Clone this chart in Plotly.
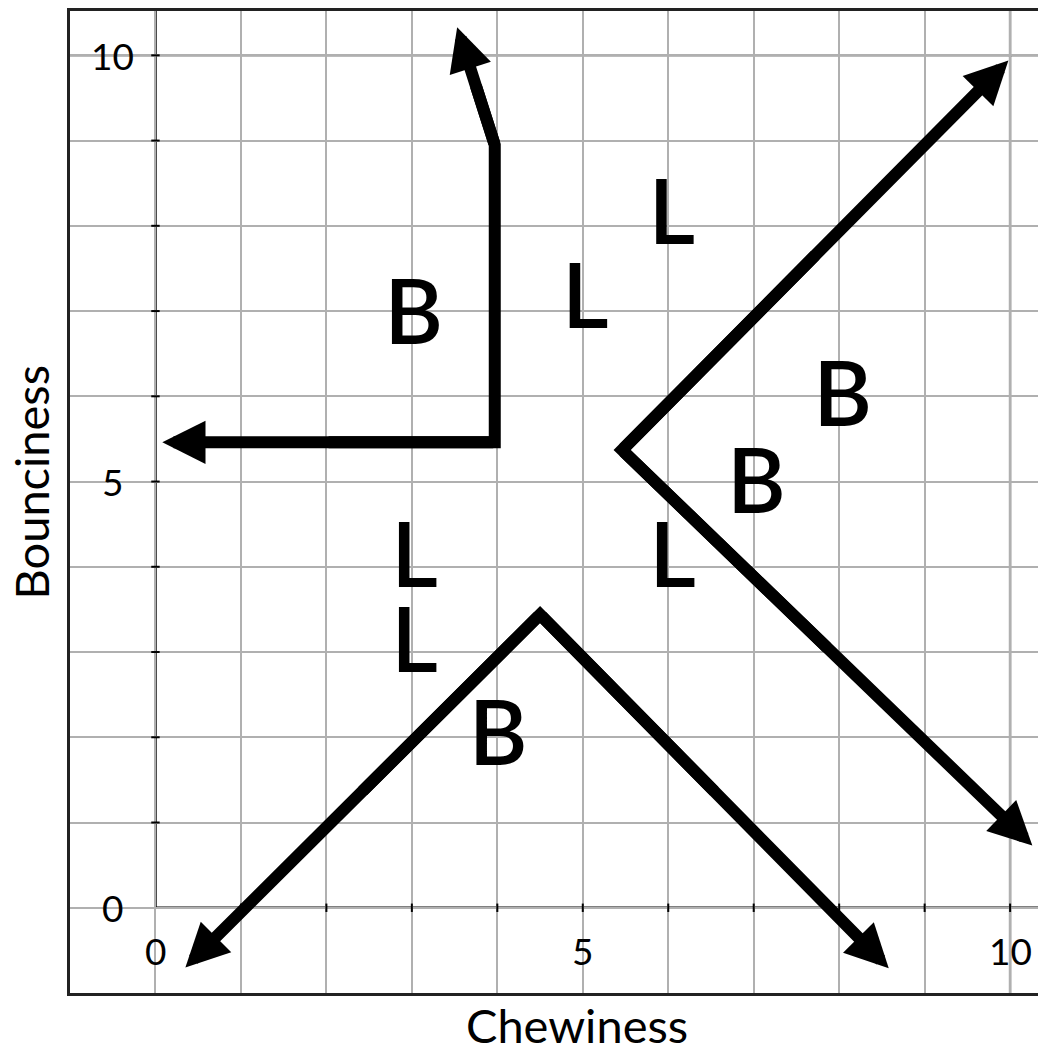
import plotly.graph_objects as go

# arrow paths: first and last points are arrow tips
path_corner = [(0.08, 5.46), (3.97, 5.46), (3.97, 8.95), (3.53, 10.33)]
path_right = [(9.98, 9.94), (5.46, 5.37), (10.26, 0.73)]
path_bottom = [(0.35, -0.70), (4.50, 3.44), (8.58, -0.71)]
paths = [path_corner, path_right, path_bottom]

# letters on the grid
letters = ["B", "L", "L", "B", "B", "L", "L", "L", "B"]
letter_x = [3.02, 5.03, 6.04, 8.04, 7.03, 6.05, 3.03, 3.03, 4.01]
letter_y = [6.88, 7.07, 8.05, 5.92, 4.90, 4.03, 4.03, 3.03, 1.94]

# tick labels drawn inside the plot
ylab_text = ["10", "5", "0"]
ylab_val = [10, 5, 0]
xlab_text = ["0", "5", "10"]
xlab_val = [0, 5, 10]

ticks = list(range(1, 11))

FONT = "Lato"
W = 12

fig = go.Figure()

anns = []
for p in paths:
    mid_a = ((p[0][0] + p[1][0]) / 2, (p[0][1] + p[1][1]) / 2)
    mid_b = ((p[-1][0] + p[-2][0]) / 2, (p[-1][1] + p[-2][1]) / 2)
    pts = [mid_a] + p[1:-1] + [mid_b]
    fig.add_trace(go.Scatter(
        x=[q[0] for q in pts], y=[q[1] for q in pts],
        mode="lines", line=dict(color="black", width=W),
        hoverinfo="skip", showlegend=False,
    ))
    # arrow drawn over the whole end segment so there is no seam
    for tip, start in [(p[0], p[1]), (p[-1], p[-2])]:
        anns.append(dict(
            x=tip[0], y=tip[1], ax=start[0], ay=start[1],
            xref="x", yref="y", axref="x", ayref="y",
            text="", showarrow=True, arrowhead=2, arrowsize=0.72,
            arrowwidth=W, arrowcolor="black", standoff=0,
        ))

# small tick marks on the axes
fig.add_trace(go.Scatter(
    x=[0] * len(ticks), y=ticks, mode="markers",
    marker=dict(symbol="line-ew", size=6, line=dict(color="black", width=2)),
    hoverinfo="skip", showlegend=False,
))
fig.add_trace(go.Scatter(
    x=ticks, y=[0] * len(ticks), mode="markers",
    marker=dict(symbol="line-ns", size=6, line=dict(color="black", width=2)),
    hoverinfo="skip", showlegend=False,
))

fig.add_trace(go.Scatter(
    x=letter_x, y=letter_y, text=letters, mode="text",
    textfont=dict(family=FONT, size=90, color="black", weight=600),
    hoverinfo="skip", showlegend=False,
))

for t, v in zip(ylab_text, ylab_val):
    anns.append(dict(x=-0.5, y=v, xref="x", yref="y", text=t, showarrow=False,
                     font=dict(family=FONT, size=37, color="black")))
for t, v in zip(xlab_text, xlab_val):
    anns.append(dict(x=v, y=-0.5, xref="x", yref="y", text=t, showarrow=False,
                     font=dict(family=FONT, size=37, color="black")))

anns.append(dict(x=4.93, y=-0.033, xref="x", yref="paper", text="Chewiness",
                 yanchor="middle", showarrow=False,
                 font=dict(family=FONT, size=47, color="black")))
anns.append(dict(x=-0.04, y=5, xref="paper", yref="y", text="Bounciness",
                 xanchor="center", textangle=-90, showarrow=False,
                 font=dict(family=FONT, size=47, color="black")))

shapes = [
    dict(type="line", xref="x", yref="y", x0=0, y0=0, x1=10.42, y1=0,
         line=dict(color="black", width=2.5), layer="below"),
    dict(type="line", xref="x", yref="y", x0=0, y0=0, x1=0, y1=10.52,
         line=dict(color="black", width=2.5), layer="below"),
    dict(type="line", xref="x", yref="y", x0=-1, y0=10, x1=10.42, y1=10,
         line=dict(color="#7a7a7a", width=2.5), layer="below"),
    dict(type="line", xref="x", yref="y", x0=10, y0=-1, x1=10, y1=10.52,
         line=dict(color="#7a7a7a", width=2.5), layer="below"),
]

fig.update_layout(
    width=1046, height=1049,
    margin=dict(l=62, r=8, t=0, b=64),
    paper_bgcolor="white", plot_bgcolor="white",
    annotations=anns, shapes=shapes,
    xaxis=dict(range=[-1, 10.42], dtick=1, tick0=0, showgrid=True,
               gridcolor="#b0b0b0", gridwidth=2, zeroline=False,
               showticklabels=False, ticks="", showline=True, mirror=True,
               linecolor="#222", linewidth=2.5),
    yaxis=dict(range=[-1, 10.52], dtick=1, tick0=0, showgrid=True,
               gridcolor="#b0b0b0", gridwidth=2, zeroline=False,
               showticklabels=False, ticks="", showline=True, mirror=False,
               linecolor="#222", linewidth=2.5),
)

fig.write_html("out.html")
